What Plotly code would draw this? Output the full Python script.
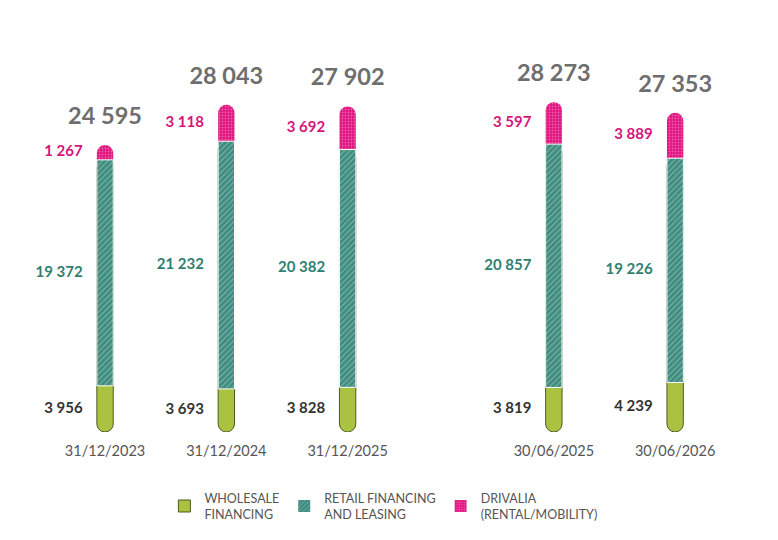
import plotly.graph_objects as go

dates = ['31/12/2023', '31/12/2024', '31/12/2025', '30/06/2025', '30/06/2026']
xpos = [0, 1, 2, 3.7, 4.7]
wholesale = [3956, 3693, 3828, 3819, 4239]
retail = [19372, 21232, 20382, 20857, 19226]
drivalia = [1267, 3118, 3692, 3597, 3889]
totals = [24595, 28043, 27902, 28273, 27353]

GREEN = '#a9c23f'
TEAL = '#3d8c7e'
PINK = '#e0147f'
teal_pat = dict(shape='/', fgcolor='#cfe3de', size=4, solidity=0.25)
pink_pat = dict(shape='.', fgcolor='#f7a8cf', size=3, solidity=0.3)


def fmt(v):
    return f'{v:,}'.replace(',', ' ')


top_retail = [w + r for w, r in zip(wholesale, retail)]

fig = go.Figure()

# rounded pieces are drawn long and the retail bar covers their inner ends
fig.add_trace(go.Bar(
    x=xpos, y=[r + d for r, d in zip(retail, drivalia)], base=wholesale, width=0.135,
    marker=dict(color=PINK, line=dict(width=0), cornerradius='50%', pattern=pink_pat),
    showlegend=False, hoverinfo='skip'))
fig.add_trace(go.Bar(
    x=xpos, y=top_retail, base=[0] * len(xpos), width=0.135,
    marker=dict(color=GREEN, line=dict(color='#4d5a22', width=1), cornerradius='50%'),
    showlegend=False, hoverinfo='skip'))
fig.add_trace(go.Bar(
    x=xpos, y=retail, base=wholesale, width=0.135,
    marker=dict(color=TEAL, line=dict(color='white', width=1), pattern=teal_pat),
    showlegend=False, hoverinfo='skip'))

# legend entries
fig.add_trace(go.Bar(x=[None], y=[None], name='WHOLESALE<br>FINANCING',
                     marker=dict(color=GREEN, line=dict(color='#4d5a22', width=1))))
fig.add_trace(go.Bar(x=[None], y=[None], name='RETAIL FINANCING<br>AND LEASING',
                     marker=dict(color=TEAL, line=dict(width=0), pattern=teal_pat)))
fig.add_trace(go.Bar(x=[None], y=[None], name='DRIVALIA<br>(RENTAL/MOBILITY)',
                     marker=dict(color=PINK, line=dict(width=0), pattern=pink_pat)))

lx = [x - 0.185 for x in xpos]
fig.add_trace(go.Scatter(
    x=lx, y=[w / 2 for w in wholesale], mode='text', text=['<b>' + fmt(v) + '</b>' for v in wholesale],
    textposition='middle left', textfont=dict(color='#333333', size=15, family='Lato'),
    showlegend=False, hoverinfo='skip'))
fig.add_trace(go.Scatter(
    x=lx, y=[w + r / 2 for w, r in zip(wholesale, retail)], mode='text',
    text=['<b>' + fmt(v) + '</b>' for v in retail],
    textposition='middle left', textfont=dict(color='#2f7f70', size=15, family='Lato'),
    showlegend=False, hoverinfo='skip'))
fig.add_trace(go.Scatter(
    x=lx, y=[t + d / 2 for t, d in zip(top_retail, drivalia)], mode='text',
    text=['<b>' + fmt(v) + '</b>' for v in drivalia],
    textposition='middle left', textfont=dict(color='#d6157a', size=15, family='Lato'),
    showlegend=False, hoverinfo='skip'))
fig.add_trace(go.Scatter(
    x=xpos, y=[t + 1300 for t in totals], mode='text', text=['<b>' + fmt(t) + '</b>' for t in totals],
    textposition='top center', textfont=dict(color='#6e6e6e', size=23.5, family='Lato'),
    showlegend=False, hoverinfo='skip'))

fig.update_layout(
    width=778, height=540,
    barmode='overlay',
    plot_bgcolor='white', paper_bgcolor='white',
    margin=dict(l=0, r=0, t=4, b=116),
    font=dict(family='Lato', color='#555555'),
    xaxis=dict(range=[-0.80, 5.614], tickvals=xpos, ticktext=dates,
               tickfont=dict(size=14.5, color='#555555'),
               showgrid=False, zeroline=False, showline=False, ticks='', ticklabelstandoff=8),
    yaxis=dict(range=[0, 36000], visible=False),
    legend=dict(orientation='h', x=0.201, y=-0.122, xanchor='left', yanchor='top',
                font=dict(size=12.5, color='#555555'), traceorder='normal'),
    showlegend=True,
)
fig.write_html('out.html')
